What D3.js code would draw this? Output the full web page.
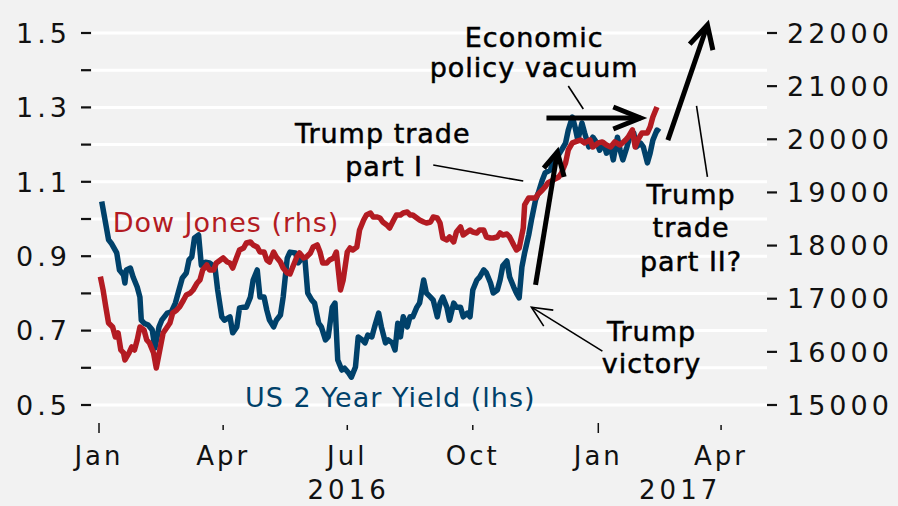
<!DOCTYPE html>
<html><head><meta charset="utf-8">
<script src="https://cdn.jsdelivr.net/npm/d3@7/dist/d3.min.js"></script>
<style>body{margin:0;background:#f2f2f2;}svg{display:block;}</style>
</head><body>
<svg id="chart" width="898" height="506"></svg>
<script>
// ---------------- DATA ----------------
const yieldDates = ["2016-01-03","2016-01-05","2016-01-08","2016-01-10","2016-01-14","2016-01-16","2016-01-19","2016-01-20","2016-01-21","2016-01-24","2016-01-26","2016-01-29","2016-01-31","2016-02-01","2016-02-03","2016-02-06","2016-02-09","2016-02-11","2016-02-14","2016-02-16","2016-02-20","2016-02-23","2016-02-26","2016-02-28","2016-03-02","2016-03-05","2016-03-07","2016-03-09","2016-03-11","2016-03-14","2016-03-16","2016-03-19","2016-03-22","2016-03-26","2016-03-28","2016-03-31","2016-04-02","2016-04-06","2016-04-08","2016-04-11","2016-04-13","2016-04-16","2016-04-18","2016-04-21","2016-04-23","2016-04-26","2016-04-28","2016-05-01","2016-05-03","2016-05-05","2016-05-08","2016-05-10","2016-05-13","2016-05-15","2016-05-18","2016-05-20","2016-05-24","2016-05-26","2016-05-29","2016-05-31","2016-06-02","2016-06-05","2016-06-07","2016-06-10","2016-06-12","2016-06-15","2016-06-17","2016-06-20","2016-06-22","2016-06-24","2016-06-27","2016-06-29","2016-07-02","2016-07-04","2016-07-07","2016-07-09","2016-07-12","2016-07-14","2016-07-16","2016-07-19","2016-07-21","2016-07-24","2016-07-26","2016-07-29","2016-07-31","2016-08-03","2016-08-05","2016-08-07","2016-08-09","2016-08-11","2016-08-14","2016-08-16","2016-08-18","2016-08-21","2016-08-23","2016-08-26","2016-08-28","2016-08-31","2016-09-02","2016-09-05","2016-09-07","2016-09-09","2016-09-12","2016-09-14","2016-09-17","2016-09-19","2016-09-22","2016-09-24","2016-09-27","2016-09-29","2016-10-01","2016-10-04","2016-10-06","2016-10-09","2016-10-11","2016-10-14","2016-10-16","2016-10-19","2016-10-21","2016-10-23","2016-10-26","2016-10-28","2016-10-31","2016-11-02","2016-11-04","2016-11-06","2016-11-08","2016-11-11","2016-11-13","2016-11-16","2016-11-18","2016-11-21","2016-11-23","2016-11-27","2016-11-29","2016-12-02","2016-12-05","2016-12-08","2016-12-10","2016-12-13","2016-12-15","2016-12-17","2016-12-20","2016-12-22","2016-12-25","2016-12-28","2016-12-31","2017-01-02","2017-01-05","2017-01-07","2017-01-10","2017-01-12","2017-01-15","2017-01-17","2017-01-19","2017-01-22","2017-01-24","2017-01-27","2017-01-29","2017-02-01","2017-02-03","2017-02-06","2017-02-08","2017-02-10","2017-02-13","2017-02-15"];
const yieldValues = [1.047,1.006,0.944,0.935,0.909,0.863,0.849,0.828,0.863,0.868,0.844,0.817,0.790,0.728,0.720,0.715,0.702,0.653,0.710,0.728,0.747,0.750,0.774,0.801,0.841,0.855,0.890,0.898,0.949,0.957,0.876,0.884,0.882,0.871,0.809,0.737,0.728,0.737,0.694,0.710,0.761,0.763,0.763,0.790,0.836,0.863,0.790,0.790,0.755,0.728,0.710,0.728,0.742,0.790,0.895,0.911,0.909,0.882,0.895,0.890,0.801,0.782,0.774,0.720,0.710,0.675,0.683,0.763,0.774,0.621,0.594,0.599,0.586,0.575,0.602,0.683,0.675,0.667,0.688,0.683,0.710,0.747,0.710,0.667,0.675,0.667,0.648,0.720,0.683,0.737,0.710,0.737,0.737,0.763,0.774,0.836,0.801,0.790,0.782,0.737,0.774,0.790,0.763,0.728,0.774,0.763,0.763,0.737,0.747,0.737,0.809,0.836,0.844,0.863,0.855,0.828,0.801,0.809,0.836,0.874,0.887,0.844,0.817,0.801,0.788,0.871,0.909,0.957,0.997,1.051,1.070,1.105,1.124,1.132,1.159,1.167,1.185,1.204,1.239,1.274,1.247,1.212,1.258,1.231,1.194,1.220,1.204,1.185,1.204,1.177,1.194,1.159,1.220,1.185,1.159,1.194,1.220,1.231,1.194,1.204,1.194,1.151,1.177,1.212,1.239,1.234];

const dowDates = ["2016-01-02","2016-01-04","2016-01-06","2016-01-08","2016-01-11","2016-01-13","2016-01-15","2016-01-17","2016-01-19","2016-01-20","2016-01-23","2016-01-25","2016-01-27","2016-01-29","2016-01-31","2016-02-03","2016-02-05","2016-02-07","2016-02-10","2016-02-12","2016-02-15","2016-02-17","2016-02-20","2016-02-22","2016-02-24","2016-02-27","2016-02-29","2016-03-03","2016-03-05","2016-03-08","2016-03-10","2016-03-13","2016-03-15","2016-03-17","2016-03-20","2016-03-22","2016-03-25","2016-03-27","2016-03-30","2016-04-01","2016-04-04","2016-04-06","2016-04-08","2016-04-11","2016-04-13","2016-04-16","2016-04-18","2016-04-21","2016-04-23","2016-04-26","2016-04-28","2016-05-01","2016-05-03","2016-05-05","2016-05-08","2016-05-10","2016-05-13","2016-05-15","2016-05-18","2016-05-20","2016-05-22","2016-05-25","2016-05-27","2016-05-30","2016-06-01","2016-06-04","2016-06-06","2016-06-09","2016-06-11","2016-06-13","2016-06-16","2016-06-18","2016-06-21","2016-06-23","2016-06-26","2016-06-28","2016-07-01","2016-07-03","2016-07-05","2016-07-08","2016-07-10","2016-07-13","2016-07-15","2016-07-18","2016-07-20","2016-07-23","2016-07-25","2016-07-27","2016-07-30","2016-08-01","2016-08-04","2016-08-06","2016-08-09","2016-08-11","2016-08-14","2016-08-16","2016-08-18","2016-08-21","2016-08-23","2016-08-26","2016-08-28","2016-08-31","2016-09-02","2016-09-05","2016-09-07","2016-09-09","2016-09-12","2016-09-14","2016-09-17","2016-09-19","2016-09-22","2016-09-24","2016-09-27","2016-09-29","2016-10-01","2016-10-04","2016-10-06","2016-10-09","2016-10-11","2016-10-14","2016-10-16","2016-10-19","2016-10-21","2016-10-23","2016-10-26","2016-10-28","2016-10-31","2016-11-02","2016-11-04","2016-11-07","2016-11-08","2016-11-11","2016-11-13","2016-11-16","2016-11-18","2016-11-21","2016-11-23","2016-11-25","2016-11-29","2016-12-03","2016-12-05","2016-12-08","2016-12-10","2016-12-13","2016-12-15","2016-12-19","2016-12-22","2016-12-26","2016-12-28","2017-01-01","2017-01-04","2017-01-07","2017-01-10","2017-01-13","2017-01-17","2017-01-21","2017-01-23","2017-01-26","2017-01-28","2017-01-30","2017-02-02","2017-02-06","2017-02-08","2017-02-10","2017-02-13"];
const dowValues = [17415,17164,16844,16543,16468,16280,16355,16035,15979,15847,15979,16092,16035,16223,16468,16412,16223,16167,15979,15696,16092,16355,16468,16543,16731,16788,16844,16976,17070,17108,17164,17296,17353,17541,17635,17541,17541,17672,17729,17767,17691,17672,17578,17785,17917,17955,18049,18068,18011,17974,17879,17879,17729,17691,17879,17785,17691,17578,17484,17465,17597,17785,17861,17767,17785,17861,17974,18011,17879,17672,17672,17729,17767,17879,17164,17353,17879,17955,17917,17974,18294,18482,18576,18613,18538,18538,18519,18444,18388,18331,18482,18576,18576,18613,18632,18576,18576,18519,18482,18444,18425,18444,18538,18519,18425,18143,18105,18162,18068,18256,18350,18199,18256,18294,18256,18237,18294,18294,18162,18143,18143,18162,18237,18199,18218,18162,18011,17917,17955,18331,18764,18896,18896,18896,18971,19046,19103,19178,19235,19291,19366,19554,19799,19931,19950,19987,19931,19987,19856,19931,19950,19893,19856,19950,19893,19987,20044,20176,19856,19987,20119,20119,20232,20420,20608];

const leftTicks = [0.5,0.6,0.7,0.8,0.9,1.0,1.1,1.2,1.3,1.4,1.5];
const leftLabels = ["0.5","","0.7","","0.9","","1.1","","1.3","","1.5"];
const rightTicks = [15000,16000,17000,18000,19000,20000,21000,22000];
const monthTicks = ["2016-01-01","2016-04-01","2016-07-01","2016-10-01","2017-01-01","2017-04-01"];
const monthLabels = ["Jan","Apr","Jul","Oct","Jan","Apr"];
const yearLabels = ["2016","2017"];

// annotation anchors (date, value on left axis)
const arrows = [
  {pts:[["2016-11-24",1.2715],["2017-02-01",1.2715]], head:[["2017-01-12",1.301],["2017-02-01",1.2715],["2017-01-12",1.242]], w:5},
  {pts:[["2016-11-16",0.823],["2016-12-02",1.180]], head:[["2016-11-22",1.137],["2016-12-02",1.180],["2016-12-07",1.113]], w:5},
  {pts:[["2017-02-21",1.212],["2017-03-22",1.5215]], head:[["2017-03-09",1.470],["2017-03-22",1.5215],["2017-03-26",1.454]], w:5},
  {pts:[["2017-01-04",0.645],["2016-11-13",0.763]], head:[["2016-11-29",0.755],["2016-11-13",0.763],["2016-11-22",0.712]], w:1.6}
];
const pointers = [
  [["2016-12-10",1.3575],["2016-12-21",1.2957]],
  [["2016-09-02",1.145],["2016-11-07",1.102]],
  [["2017-03-14",1.304],["2017-03-22",1.113]]
];
const notes = [
  {date:"2016-11-15", v:1.462, text:"Economic", anchor:"middle"},
  {date:"2016-11-15", v:1.382, text:"policy vacuum", anchor:"middle"},
  {date:"2016-07-27", v:1.204, text:"Trump trade", anchor:"middle"},
  {date:"2016-07-28", v:1.116, text:"part I", anchor:"middle"},
  {date:"2017-03-10", v:1.040, text:"Trump", anchor:"middle"},
  {date:"2017-03-10", v:0.952, text:"trade", anchor:"middle"},
  {date:"2017-03-10", v:0.860, text:"part II?", anchor:"middle"},
  {date:"2017-02-09", v:0.672, text:"Trump", anchor:"middle"},
  {date:"2017-02-09", v:0.586, text:"victory", anchor:"middle"}
];
const seriesLabels = [
  {date:"2016-01-11", v:0.965, text:"Dow Jones (rhs)", color:"#b31b22"},
  {date:"2016-04-17", v:0.4955, text:"US 2 Year Yield (lhs)", color:"#00416a"}
];

// ---------------- CHART ----------------
const parse = d3.timeParse("%Y-%m-%d");
const svg = d3.select("#chart");
const FONT = "DejaVu Sans";
const BLUE = "#00416a", RED = "#b31b22";

svg.append("rect").attr("width",898).attr("height",506).attr("fill","#f2f2f2");

const x = d3.scaleTime().domain([parse("2016-01-01"), parse("2017-05-01")]).range([99, 762]);
const yL = d3.scaleLinear().domain([0.5,1.5]).range([405,33]);
const yR = d3.scaleLinear().domain([15000,22000]).range([405,33]);

// gridlines
svg.append("g").selectAll("line").data(leftTicks).join("line")
  .attr("x1",92).attr("x2",767).attr("y1",d=>yL(d)).attr("y2",d=>yL(d))
  .attr("stroke","#ffffff").attr("stroke-width",3);

// left axis
const gl = svg.append("g");
gl.selectAll("line").data(leftTicks).join("line")
  .attr("x1",81).attr("x2",91).attr("y1",d=>yL(d)).attr("y2",d=>yL(d))
  .attr("stroke","#111").attr("stroke-width",2.2);
gl.selectAll("text").data(leftTicks).join("text")
  .attr("x",71).attr("y",d=>yL(d)).attr("dy","0.36em")
  .attr("text-anchor","end").attr("font-family",FONT).attr("font-size",27)
  .attr("letter-spacing",4).attr("fill","#111")
  .text((d,i)=>leftLabels[i]);

// right axis
const gr = svg.append("g");
gr.selectAll("line").data(rightTicks).join("line")
  .attr("x1",767).attr("x2",777).attr("y1",d=>yR(d)).attr("y2",d=>yR(d))
  .attr("stroke","#111").attr("stroke-width",2.2);
gr.selectAll("text").data(rightTicks).join("text")
  .attr("x",787).attr("y",d=>yR(d)).attr("dy","0.36em")
  .attr("text-anchor","start").attr("font-family",FONT).attr("font-size",27)
  .attr("letter-spacing",4).attr("fill","#111")
  .text(d=>d3.format("d")(d));

// x axis
const gx = svg.append("g");
gx.selectAll("line").data(monthTicks).join("line")
  .attr("x1",d=>x(parse(d))).attr("x2",d=>x(parse(d)))
  .attr("y1",d=>d.endsWith("01-01")?423:425).attr("y2",d=>d.endsWith("01-01")?433:430)
  .attr("stroke","#111").attr("stroke-width",1.5);
gx.selectAll("text").data(monthTicks).join("text")
  .attr("x",d=>x(parse(d))).attr("y",465)
  .attr("text-anchor","middle").attr("font-family",FONT).attr("font-size",26)
  .attr("letter-spacing",3).attr("fill","#111")
  .text((d,i)=>monthLabels[i]);
const yearCenters = [
  (x(parse("2016-01-01"))+x(parse("2017-01-01")))/2,
  (x(parse("2017-01-01"))+x.range()[1])/2
];
gx.selectAll("text.yr").data(yearLabels).join("text").attr("class","yr")
  .attr("x",(d,i)=>yearCenters[i]).attr("y",499)
  .attr("text-anchor","middle").attr("font-family",FONT).attr("font-size",26)
  .attr("letter-spacing",4).attr("fill","#111")
  .text(d=>d);

// lines
const yieldData = yieldDates.map((d,i)=>({date:parse(d), v:yieldValues[i]}));
const dowData = dowDates.map((d,i)=>({date:parse(d), v:dowValues[i]}));
svg.append("path").datum(yieldData)
  .attr("d", d3.line().x(d=>x(d.date)).y(d=>yL(d.v)))
  .attr("fill","none").attr("stroke",BLUE).attr("stroke-width",5.5).attr("stroke-linejoin","round");
svg.append("path").datum(dowData)
  .attr("d", d3.line().x(d=>x(d.date)).y(d=>yR(d.v)))
  .attr("fill","none").attr("stroke",RED).attr("stroke-width",5.5).attr("stroke-linejoin","round");

// annotations
const P = p => [x(parse(p[0])), yL(p[1])];
const ln = d3.line();
const ga = svg.append("g");
arrows.forEach(a=>{
  ga.append("path").attr("d", ln(a.pts.map(P))).attr("fill","none")
    .attr("stroke","#000").attr("stroke-width",a.w);
  ga.append("path").attr("d", ln(a.head.map(P))).attr("fill","none")
    .attr("stroke","#000").attr("stroke-width",a.w).attr("stroke-linejoin","miter").attr("stroke-miterlimit",10);
});
pointers.forEach(p=>{
  ga.append("path").attr("d", ln(p.map(P))).attr("fill","none")
    .attr("stroke","#000").attr("stroke-width",1.6);
});
ga.selectAll("text.note").data(notes).join("text").attr("class","note")
  .attr("x",d=>x(parse(d.date))).attr("y",d=>yL(d.v))
  .attr("text-anchor",d=>d.anchor).attr("font-family",FONT).attr("font-size",27)
  .attr("letter-spacing",1).attr("fill","#000").attr("stroke","#000").attr("stroke-width",0.5)
  .text(d=>d.text);
ga.selectAll("text.ser").data(seriesLabels).join("text").attr("class","ser")
  .attr("x",d=>x(parse(d.date))).attr("y",d=>yL(d.v))
  .attr("font-family",FONT).attr("font-size",27).attr("letter-spacing",1)
  .attr("fill",d=>d.color)
  .text(d=>d.text);
</script>
</body></html>
